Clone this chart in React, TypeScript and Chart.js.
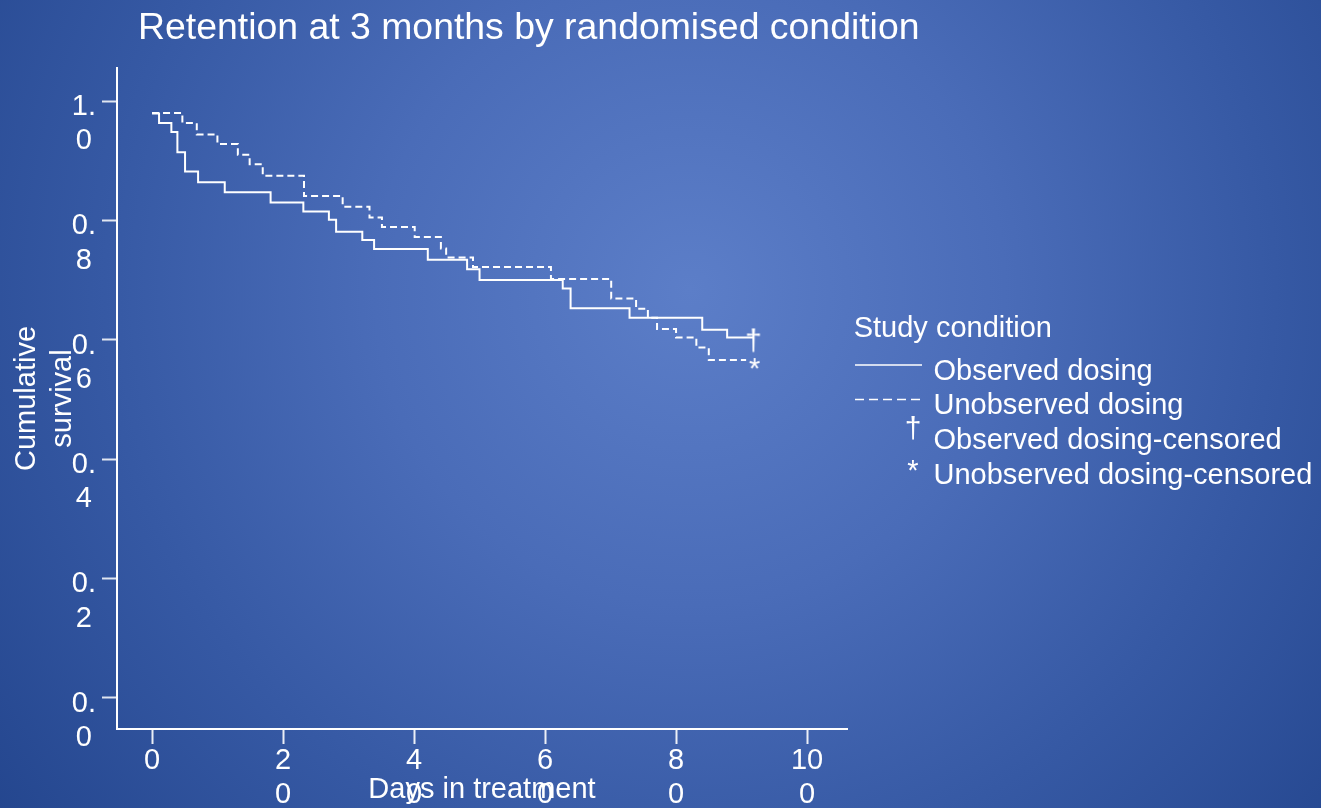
import React, { useEffect, useRef } from "react";
import { Chart, registerables } from "chart.js";

Chart.register(...registerables);

const chartTitle = "Retention at 3 months by randomised condition";
const legendTitle = "Study condition";
const seriesNames = [
  "Observed dosing",
  "Unobserved dosing",
  "Observed dosing-censored",
  "Unobserved dosing-censored",
];
const xAxisTitle = "Days in treatment";
const yAxisTitle = ["Cumulative", "survival"];

const observedDays = [0, 1.07, 2.95, 3.87, 5.04, 7.03, 11.1, 18.1, 23.1, 27.0, 28.1, 32.1, 33.9, 42.1, 48.1, 50.0, 62.7, 63.9, 72.9, 84.0, 87.8, 91.8];
const observedSurvival = [0.979, 0.963, 0.948, 0.914, 0.882, 0.864, 0.847, 0.83, 0.815, 0.801, 0.781, 0.767, 0.752, 0.734, 0.718, 0.7, 0.686, 0.653, 0.637, 0.617, 0.604, 0.604];

const unobservedDays = [0, 4.63, 6.83, 9.98, 13.1, 14.9, 16.9, 23.2, 29.1, 33.2, 35.1, 40.1, 44.1, 44.9, 49.0, 60.9, 70.1, 73.9, 75.7, 77.1, 80.0, 83.1, 85.0, 90.7];
const unobservedSurvival = [0.98, 0.963, 0.944, 0.928, 0.91, 0.894, 0.875, 0.841, 0.823, 0.805, 0.789, 0.772, 0.753, 0.738, 0.722, 0.702, 0.669, 0.652, 0.637, 0.618, 0.604, 0.587, 0.566, 0.566];

const observedCensorDays = [91.8];
const observedCensorSurvival = [0.604];
const unobservedCensorDays = [92.0];
const unobservedCensorSurvival = [0.566];

const xTickValues = [0, 20, 40, 60, 80, 100];
const xTickLabels = [["0"], ["2", "0"], ["4", "0"], ["6", "0"], ["8", "0"], ["10", "0"]];
const yTickValues = [0, 0.2, 0.4, 0.6, 0.8, 1.0];
const yTickLabels = [["0.", "0"], ["0.", "2"], ["0.", "4"], ["0.", "6"], ["0.", "8"], ["1.", "0"]];

const FAMILY = '"Liberation Sans", Arial, Helvetica, sans-serif';

function glyphCanvas(ch: string, size: number, dy: number): HTMLCanvasElement {
  const c = document.createElement("canvas");
  c.width = 40;
  c.height = 60;
  const g = c.getContext("2d")!;
  g.fillStyle = "#ffffff";
  g.font = `${size}px ${FAMILY}`;
  g.textAlign = "center";
  g.textBaseline = "middle";
  g.fillText(ch, 20, 30 + dy);
  return c;
}

export default function App() {
  const ref = useRef<HTMLCanvasElement | null>(null);

  useEffect(() => {
    document.body.style.margin = "0";
    const canvas = ref.current;
    if (!canvas) return;

    const dagger = glyphCanvas("\u2020", 30, 5);
    const star = glyphCanvas("*", 29, 9.5);
    const daggerLegend = glyphCanvas("\u2020", 30, 0);
    const starLegend = glyphCanvas("*", 29, 6);

    const textPlugin = {
      id: "texts",
      afterDraw(chart: any) {
        const ctx = chart.ctx as CanvasRenderingContext2D;
        ctx.save();
        ctx.fillStyle = "#ffffff";
        ctx.textAlign = "left";
        ctx.textBaseline = "alphabetic";
        ctx.font = `37.4px ${FAMILY}`;
        ctx.fillText(chartTitle, 138, 39);

        ctx.font = `29px ${FAMILY}`;
        ctx.fillText(legendTitle, 853.7, 337);
        ctx.fillText(seriesNames[0], 933.5, 380);
        ctx.fillText(seriesNames[1], 933.5, 414);
        ctx.fillText(seriesNames[2], 933.5, 448.5);
        ctx.fillText(seriesNames[3], 933.5, 483.5);

        ctx.strokeStyle = "#ffffff";
        ctx.lineWidth = 1.5;
        ctx.beginPath();
        ctx.moveTo(855, 365);
        ctx.lineTo(922, 365);
        ctx.stroke();
        ctx.setLineDash([9, 5]);
        ctx.beginPath();
        ctx.moveTo(855, 399.5);
        ctx.lineTo(922, 399.5);
        ctx.stroke();
        ctx.setLineDash([]);
        ctx.drawImage(daggerLegend, 913 - 20, 430 - 30);
        ctx.drawImage(starLegend, 913 - 20, 466 - 30);
        ctx.restore();
      },
    };

    const tickFont = { family: FAMILY, size: 29, lineHeight: 1.18 };

    const chart = new Chart(canvas, {
      type: "line",
      data: {
        datasets: [
          {
            label: seriesNames[0],
            data: observedDays.map((x, i) => ({ x, y: observedSurvival[i] })),
            stepped: "before",
            borderColor: "#ffffff",
            borderWidth: 2,
            pointRadius: 0,
            fill: false,
          },
          {
            label: seriesNames[1],
            data: unobservedDays.map((x, i) => ({ x, y: unobservedSurvival[i] })),
            stepped: "before",
            borderColor: "#ffffff",
            borderWidth: 2,
            borderDash: [7, 4],
            pointRadius: 0,
            fill: false,
          },
          {
            label: seriesNames[2],
            data: observedCensorDays.map((x, i) => ({ x, y: observedCensorSurvival[i] })),
            showLine: false,
            pointStyle: dagger as any,
            pointRadius: 10,
          },
          {
            label: seriesNames[3],
            data: unobservedCensorDays.map((x, i) => ({ x, y: unobservedCensorSurvival[i] })),
            showLine: false,
            pointStyle: star as any,
            pointRadius: 10,
          },
        ],
      },
      options: {
        animation: false,
        responsive: false,
        devicePixelRatio: 1,
        layout: { padding: { top: 68, right: 474, bottom: 0, left: 0 } },
        plugins: {
          legend: { display: false },
          tooltip: { enabled: false },
          title: { display: false },
        },
        scales: {
          x: {
            type: "linear",
            min: -5.35,
            max: 106.1,
            afterFit: (s: any) => {
              s.height = 79;
            },
            afterBuildTicks: (s: any) => {
              s.ticks = xTickValues.map((v) => ({ value: v }));
            },
            ticks: {
              callback: (v: any) => xTickLabels[xTickValues.indexOf(Number(v))] ?? "",
              color: "#ffffff",
              font: tickFont,
              padding: 0,
              maxRotation: 0,
              autoSkip: false,
            },
            grid: {
              drawOnChartArea: false,
              drawTicks: true,
              tickLength: 15,
              tickColor: "rgba(255,255,255,0.9)",
              tickWidth: 2,
            },
            border: { display: true, color: "#ffffff", width: 2 },
            title: {
              display: true,
              text: xAxisTitle,
              color: "#ffffff",
              font: { family: FAMILY, size: 29, lineHeight: 1.2 },
              padding: { top: 0, bottom: 0.6 },
            },
          },
          y: {
            type: "linear",
            min: -0.052,
            max: 1.0553,
            afterFit: (s: any) => {
              s.width = 117;
            },
            afterBuildTicks: (s: any) => {
              s.ticks = yTickValues.map((v) => ({ value: v }));
            },
            ticks: {
              callback: (v: any) => yTickLabels[yTickValues.indexOf(Number(v))] ?? "",
              color: "#ffffff",
              font: tickFont,
              padding: 6,
              crossAlign: "center",
              labelOffset: 23,
              autoSkip: false,
            },
            grid: {
              drawOnChartArea: false,
              drawTicks: true,
              tickLength: 15,
              tickColor: "rgba(255,255,255,0.85)",
              tickWidth: 2,
            },
            border: { display: true, color: "#ffffff", width: 2 },
            title: {
              display: true,
              text: yAxisTitle,
              color: "#ffffff",
              font: { family: FAMILY, size: 29, lineHeight: 1.26 },
              padding: { top: 8.4, bottom: 0 },
            },
          },
        },
      } as any,
      plugins: [textPlugin],
    });

    return () => {
      chart.destroy();
    };
  }, []);

  return (
    <div
      style={{
        width: 1321,
        height: 808,
        position: "relative",
        overflow: "hidden",
        background:
          "radial-gradient(circle 900px at 690px 290px, rgb(92,126,200) 0%, rgb(74,108,184) 35%, rgb(54,89,164) 65%, rgb(34,68,140) 100%)",
      }}
    >
      <canvas ref={ref} width={1321} height={808} style={{ display: "block" }} />
    </div>
  );
}
